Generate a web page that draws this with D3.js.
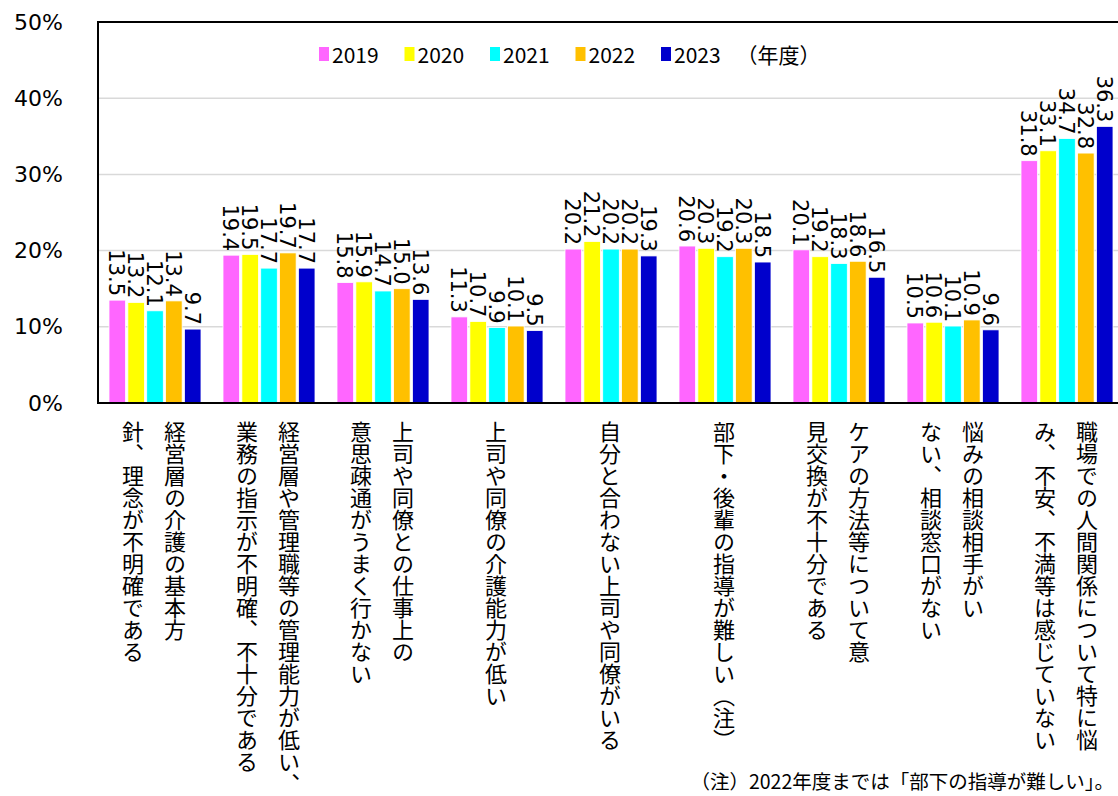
<!DOCTYPE html>
<html>
<head>
<meta charset="utf-8">
<script src="https://cdn.jsdelivr.net/npm/d3@7/dist/d3.min.js"></script>
<style>
body { margin: 0; background: #fff; }
svg { display: block; }
</style>
</head>
<body>
<svg width="1118" height="796"></svg>
<script>
// Categories (each entry = lines of the vertical label, right column first)
const categories = [
    ["経営層の介護の基本方", "針、理念が不明確である"],
    ["経営層や管理職等の管理能力が低い、", "業務の指示が不明確、不十分である"],
    ["上司や同僚との仕事上の", "意思疎通がうまく行かない"],
    ["上司や同僚の介護能力が低い"],
    ["自分と合わない上司や同僚がいる"],
    ["部下・後輩の指導が難しい（注）"],
    ["ケアの方法等について意", "見交換が不十分である"],
    ["悩みの相談相手がい", "ない、相談窓口がない"],
    ["職場での人間関係について特に悩", "み、不安、不満等は感じていない"]
];
const years = ["2019", "2020", "2021", "2022", "2023"];

// Values (%) per year
const v2019 = [13.5, 19.4, 15.8, 11.3, 20.2, 20.6, 20.1, 10.5, 31.8];
const v2020 = [13.2, 19.5, 15.9, 10.7, 21.2, 20.3, 19.2, 10.6, 33.1];
const v2021 = [12.1, 17.7, 14.7, 9.9, 20.2, 19.2, 18.3, 10.1, 34.7];
const v2022 = [13.4, 19.7, 15.0, 10.1, 20.2, 20.3, 18.6, 10.9, 32.8];
const v2023 = [9.7, 17.7, 13.6, 9.5, 19.3, 18.5, 16.5, 9.6, 36.3];

const yTicks = [0, 10, 20, 30, 40, 50];
const colors = ["#FF66FF", "#FFFF00", "#00FFFF", "#FFC000", "#0000CC"];
const legendSuffix = "（年度）";
const note = "（注）2022年度までは「部下の指導が難しい」。";

const series = [v2019, v2020, v2021, v2022, v2023];
const table = categories.map((c, i) => ({
    idx: i,
    lines: c,
    vals: years.map((yr, j) => ({ year: yr, value: series[j][i] }))
}));

const svg = d3.select("svg");
const W = 1118;
const plotLeft = 98, plotTop = 22, plotBottom = 403;

const x0 = d3.scaleBand().domain(d3.range(categories.length)).range([plotLeft, 1124]);
const x1 = d3.scaleBand().domain(years).range([11, 103]).paddingInner(0.12);
const y = d3.scaleLinear().domain([0, 50]).range([plotBottom, plotTop]);
const color = d3.scaleOrdinal().domain(years).range(colors);

// gridlines
svg.append("g")
    .selectAll("line")
    .data(yTicks.filter(d => d > 0 && d < 50))
    .enter().append("line")
    .attr("x1", plotLeft).attr("x2", W)
    .attr("y1", d => y(d)).attr("y2", d => y(d))
    .attr("stroke", "#D9D9D9").attr("stroke-width", 1.5);

// y axis labels
const yAxis = svg.append("g")
    .attr("transform", `translate(${plotLeft},0)`)
    .call(d3.axisLeft(y).tickValues(yTicks).tickFormat(d => d + "%").tickSize(0).tickPadding(35));
yAxis.select(".domain").remove();
yAxis.selectAll("text")
    .attr("font-family", "'DejaVu Sans', Verdana, sans-serif")
    .attr("font-size", 22)
    .attr("fill", "#000");

// bars
const groups = svg.append("g").selectAll("g")
    .data(table)
    .enter().append("g")
    .attr("transform", d => `translate(${x0(d.idx)},0)`);

groups.selectAll("rect")
    .data(d => d.vals)
    .enter().append("rect")
    .attr("x", d => x1(d.year))
    .attr("y", d => y(d.value))
    .attr("width", x1.bandwidth())
    .attr("height", d => y(0) - y(d.value))
    .attr("fill", d => color(d.year))
    .attr("stroke", "#fff")
    .attr("stroke-width", 0.8);

// value labels, rotated
groups.selectAll("text")
    .data(d => d.vals)
    .enter().append("text")
    .attr("transform", d => `translate(${x1(d.year) + x1.bandwidth() / 2 - 1},${y(d.value) - 4}) rotate(90)`)
    .attr("text-anchor", "end")
    .attr("dominant-baseline", "central")
    .attr("font-family", "'DejaVu Sans', Verdana, sans-serif")
    .attr("font-size", 21)
    .attr("fill", "#000")
    .text(d => d.value.toFixed(1));

// frame lines
svg.append("line").attr("x1", plotLeft).attr("x2", W).attr("y1", plotTop).attr("y2", plotTop)
    .attr("stroke", "#000").attr("stroke-width", 2);
svg.append("line").attr("x1", plotLeft).attr("x2", plotLeft).attr("y1", plotTop - 1).attr("y2", plotBottom + 1)
    .attr("stroke", "#000").attr("stroke-width", 2);
svg.append("line").attr("x1", plotLeft).attr("x2", W).attr("y1", plotBottom).attr("y2", plotBottom)
    .attr("stroke", "#000").attr("stroke-width", 2);

// category labels (vertical writing)
const catG = svg.append("g");
table.forEach(d => {
    const cx = x0(d.idx) + x0.bandwidth() / 2 - 1;
    const n = d.lines.length;
    d.lines.forEach((line, k) => {
        const off = n === 1 ? 0 : (k === 0 ? 21 : -21);
        catG.append("text")
            .attr("x", cx + off)
            .attr("y", 421)
            .style("writing-mode", "vertical-rl")
            .attr("font-family", "'Noto Sans CJK JP', sans-serif")
            .attr("font-size", 22)
            .attr("fill", "#000")
            .text(line);
    });
});

// legend
const lx = d3.scaleLinear().domain([0, years.length]).range([319, 319 + 85.5 * years.length]);
const legend = svg.append("g");
years.forEach((yr, i) => {
    legend.append("rect")
        .attr("x", lx(i)).attr("y", 47)
        .attr("width", 10).attr("height", 14)
        .attr("fill", color(yr));
    legend.append("text")
        .attr("x", lx(i) + 13).attr("y", 54)
        .attr("dominant-baseline", "central")
        .attr("font-family", "'Noto Sans CJK JP', sans-serif")
        .attr("font-size", 21)
        .text(yr);
});
legend.append("text")
    .attr("x", lx(years.length) - 10).attr("y", 54)
    .attr("dominant-baseline", "central")
    .attr("font-family", "'Noto Sans CJK JP', sans-serif")
    .attr("font-size", 21)
    .text(legendSuffix);

// footnote
svg.append("text")
    .attr("x", 1114).attr("y", 789)
    .attr("text-anchor", "end")
    .attr("font-family", "'Noto Sans CJK JP', sans-serif")
    .attr("font-size", 19.5)
    .text(note);
</script>
</body>
</html>
